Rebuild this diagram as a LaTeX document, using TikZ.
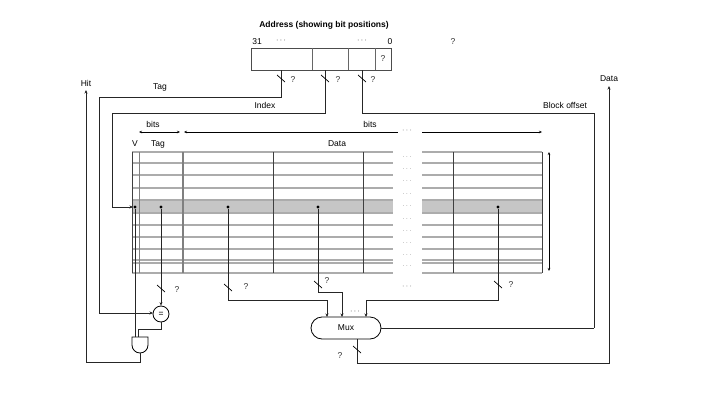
\documentclass[tikz,border=0pt]{standalone}
\usepackage{fontspec}
\setmainfont{Liberation Sans}
\usetikzlibrary{arrows.meta,shapes.misc}
\begin{document}
\begin{tikzpicture}[x=1pt,y=-1pt,
  txt/.style={font=\fontsize{8.5}{9}\selectfont,inner sep=0pt},
  q/.style={txt,text=black!80},
  wire/.style={line width=1pt,black!85},
  arr/.style={wire,-{Stealth[length=3.5pt,width=3pt]}},
  grid/.style={line width=1.1pt,gray!65},
  vl/.style={line width=0.6pt,black!75},
  dot/.style={circle,fill=black,inner sep=0pt,minimum size=3.2pt},
  sl/.style={line width=0.7pt}]
\useasboundingbox (0,0) rectangle (714,404);
% address
\node[txt,font=\bfseries\fontsize{8.5}{9}\selectfont] (addr) at (324,25) {Address (showing bit positions)};
\node[txt] (b31) at (257,42) {31};
\node[txt] (d1) at (281,41) {$\cdots$};
\node[txt] (d2) at (362,41) {$\cdots$};
\node[txt] (b0) at (390,42) {0};
\node[q] (qa) at (453,42) {?};
\draw[line width=0.8pt,black!70] (251,48) rectangle (391,70);
\foreach \x in {312,348,375} \draw[line width=0.8pt,black!60] (\x,48) -- (\x,70);
\node[q] (qb) at (383,59) {?};
% tag wire
\coordinate (tagA) at (281,70);
\coordinate (eqIn) at (153,313);
\draw[arr] (tagA) |- (99,97) |- (eqIn);
\draw[sl] (277,75) -- (285,82); \node[q] at (293,80) {?};
\node[txt] (tagL) at (160,87) {Tag};
% index wire
\coordinate (idxA) at (325,70);
\coordinate (vIn) at (133,207);
\draw[arr] (idxA) |- (112,113) |- (vIn);
\draw[sl] (321,75) -- (329,82); \node[q] at (338,80) {?};
\node[txt] (idxL) at (265,105) {Index};
% block offset
\coordinate (boA) at (362,70);
\draw[wire] (boA) |- (594,113) -- (594,328);
\draw[sl] (358,75) -- (366,82); \node[q] at (373,80) {?};
\node[txt] (boL) at (565,105) {Block offset};
% bits arrows
\draw[{Stealth[length=3pt,width=2.5pt]}-{Stealth[length=3pt,width=2.5pt]},line width=0.5pt] (139,132) -- (180,132);
\node[txt] at (153,124) {bits};
\draw[{Stealth[length=3pt,width=2.5pt]}-,line width=0.5pt] (184,132) -- (398,132);
\draw[-{Stealth[length=3pt,width=2.5pt]},line width=0.5pt] (422,132) -- (542,132);
\node[txt,text=black!75] at (407,131) {$\cdots$};
\node[txt] at (370,124) {bits};
\node[txt] (vL) at (135,144) {V};
\node[txt] at (158,144) {Tag};
\node[txt] at (337,144) {Data};
% table
\fill[gray!45] (132,200) rectangle (393,213);
\fill[gray!45] (422,200) rectangle (542,213);
\foreach \y in {152,163,175,188,200,213,225,237,249,260,263,273} {
  \draw[grid] (132,\y) -- (393,\y);
  \draw[grid] (422,\y) -- (542,\y);
}
\foreach \y in {157,169,181,194,206,219,231,243,255,266}
  \node[txt,text=black!75,font=\fontsize{6}{6}\selectfont] at (407,\y) {$\cdots$};
\draw[vl] (132,152) -- (132,273);
\draw[line width=0.8pt,gray] (139,152) -- (139,273);
\draw[line width=1.2pt,gray] (183,152) -- (183,273);
\draw[vl] (273,152) -- (273,273);
\draw[vl] (363,152) -- (363,273);
\draw[vl] (453,152) -- (453,273);
\draw[vl] (542,152) -- (542,273);
\draw[{Stealth[length=3pt,width=2.5pt]}-{Stealth[length=3pt,width=2.5pt]},line width=0.5pt] (549,152) -- (549,271);
\node[txt,text=black!75] at (407,287) {$\cdots$};
% taps
\node[dot] (tv) at (135,207) {};
\node[dot] (tt) at (161,207) {};
\node[dot] (t1) at (228,207) {};
\node[dot] (t2) at (318,207) {};
\node[dot] (t3) at (498,207) {};
% comparator and gate
\node[circle,draw,line width=0.8pt,minimum size=16pt,inner sep=0pt,txt] (eq) at (161,314) {=};
\draw[arr] (tt) -- (eq.north);
\draw[sl] (157,285) -- (165,292); \node[q] at (177,290) {?};
\draw[line width=0.8pt,fill=white] (132,345) -- (132,337) -- (148,337) -- (148,345) arc (0:180:8 and 8) -- cycle;
\coordinate (andO) at (140,353);
\draw[wire] (tv) -- (135,337);
\draw[wire] (eq.south) |- (138,329) -- (138,337);
\coordinate (hitT) at (86,90);
\draw[arr] (andO) |- (86,362) -- (hitT);
\node[txt] (hitL) at (86,83) {Hit};
% mux
\node[rounded rectangle,draw,line width=0.8pt,minimum width=70pt,minimum height=22pt,inner sep=0pt,txt] (mux) at (346,328) {Mux};
\draw[arr] (t1) |- (327,300) -- (327,317);
\draw[sl] (224,284) -- (232,291); \node[q] at (246,287) {?};
\draw[arr] (t2) |- (342,292) -- (342,317);
\draw[sl] (314,281) -- (322,288); \node[q] at (327,281) {?};
\draw[arr] (t3) |- (366,300) -- (366,317);
\draw[sl] (494,281) -- (502,288); \node[q] at (511,285) {?};
\node[txt] at (355,312) {$\cdots$};
\draw[wire] (mux.east) -- (594,328);
\coordinate (dataT) at (609,86);
\draw[arr] (357,339) |- (609,363) -- (dataT);
\draw[sl] (353,346) -- (361,353); \node[q] at (340,356) {?};
\node[txt] (dataL) at (609,79) {Data};
\end{tikzpicture}
\end{document}
